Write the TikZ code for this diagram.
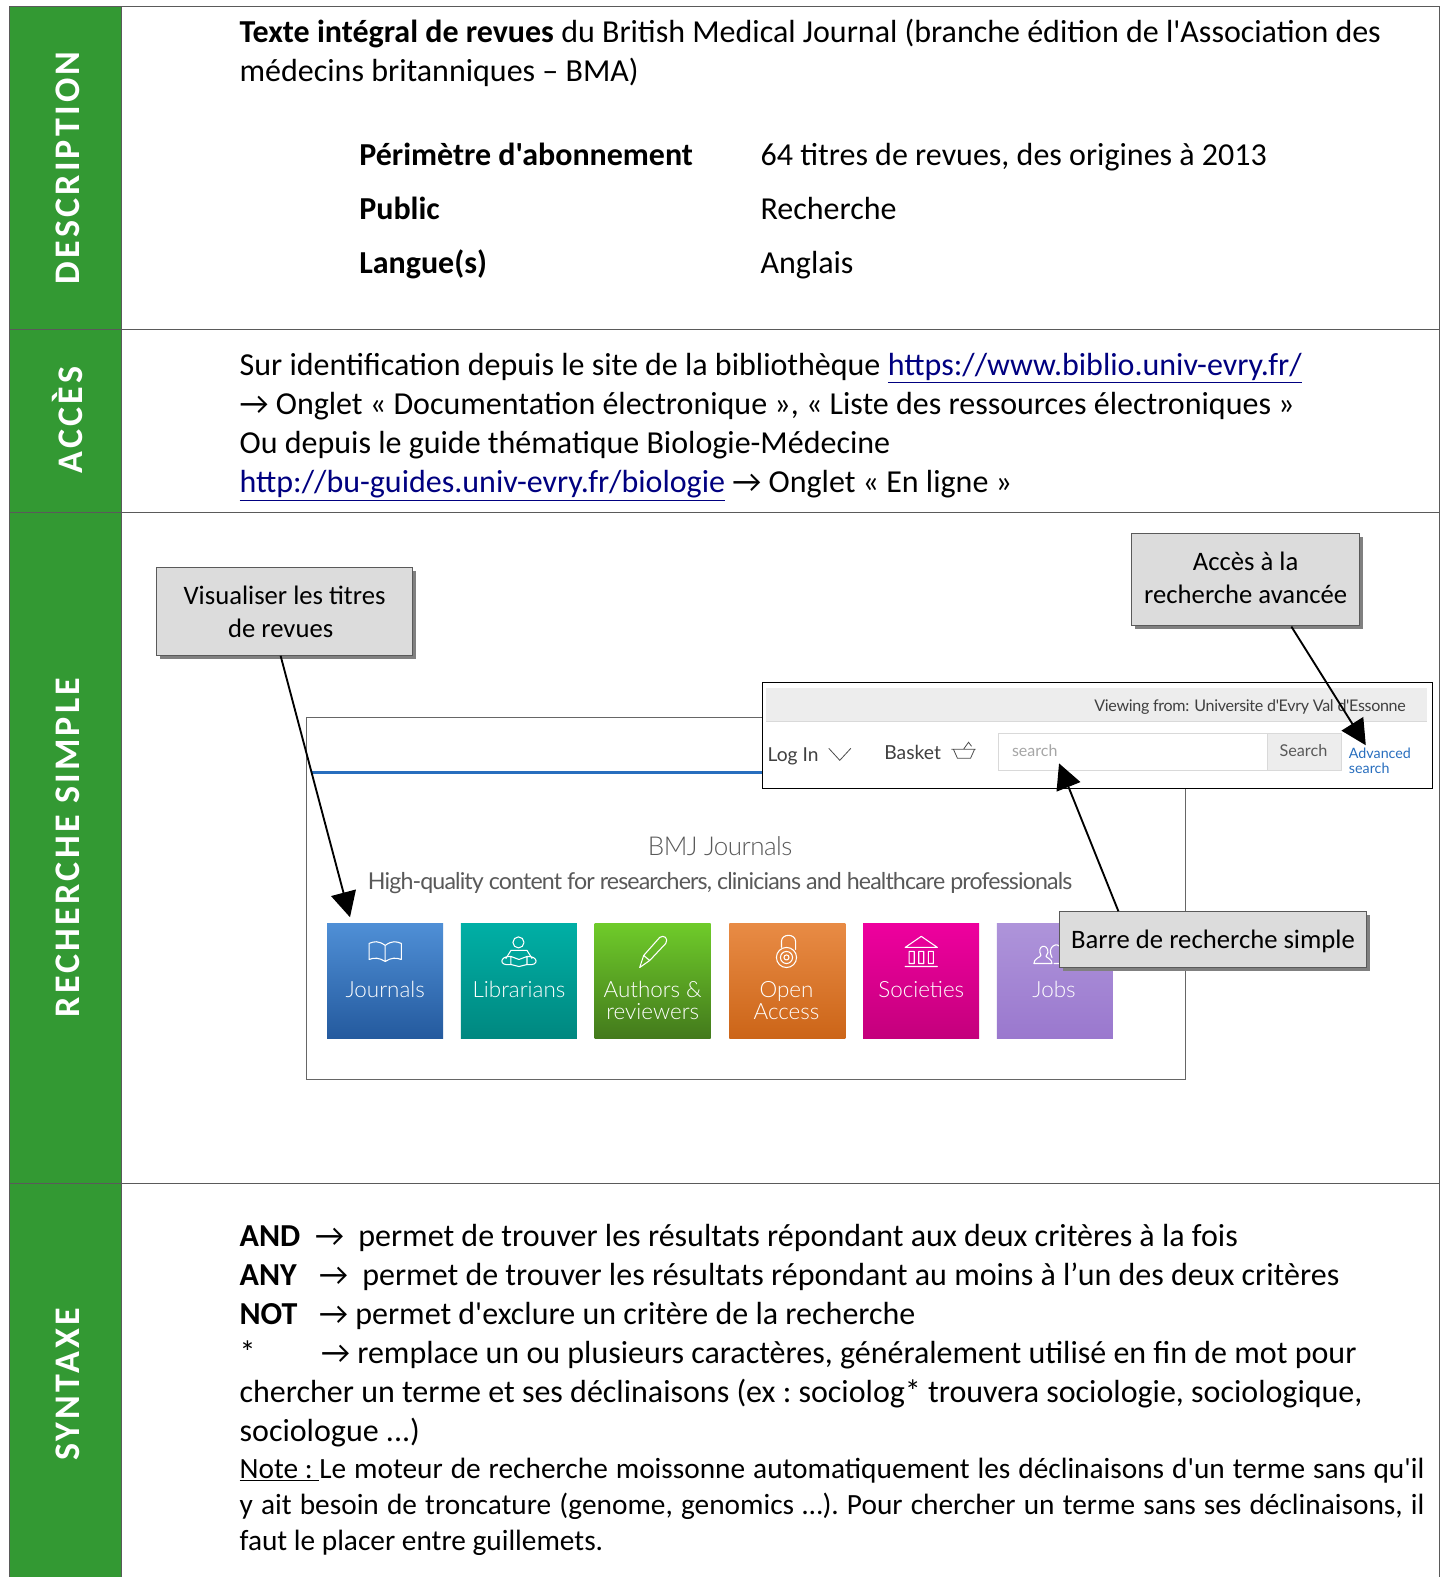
\documentclass[tikz,border=0pt]{standalone}
\usepackage{fontspec}
\newfontfamily\bodyfont{Carlito}
\newfontfamily\webfont{Lato}[UprightFont=* Light]
\newfontfamily\webreg{Lato}
\usetikzlibrary{arrows.meta,shadows}
\definecolor{sidegreen}{RGB}{51,153,51}
\definecolor{linkblue}{RGB}{0,0,128}
\definecolor{framegray}{RGB}{90,90,90}
\definecolor{calloutgray}{RGB}{220,220,220}
\definecolor{advblue}{RGB}{40,110,190}
\newcommand{\bodysize}{\bodyfont\frenchspacing\fontsize{24}{28}\selectfont}
\newcommand{\notesize}{\bodyfont\frenchspacing\fontsize{22}{26}\selectfont}
\tikzset{
  x=0.7543pt,y=-0.7543pt,
  sidelabel/.style={rotate=90,text=white,font=\bodyfont\fontsize{27}{32}\selectfont\bfseries\addfontfeature{LetterSpace=9},inner sep=0pt,anchor=center},
  bodyline/.style={anchor=base west,inner sep=0pt,font=\bodysize,yshift=-0.75pt},
  noteline/.style={anchor=base west,inner sep=0pt,font=\notesize,yshift=-0.75pt},
  callout/.style={draw=framegray,line width=0.7pt,fill=calloutgray,align=center,inner sep=0pt,font=\bodyfont\fontsize{20}{24.6}\selectfont,
    drop shadow={shadow xshift=2.6pt,shadow yshift=-2.6pt,fill=black!50,opacity=1}},
  tile/.style={anchor=north west,minimum width=87pt,minimum height=86pt,inner sep=0pt},
  tilelabel/.style={anchor=base,inner sep=0pt,text=white,font=\webfont\fontsize{16.8}{17}\selectfont},
  webtext/.style={anchor=base west,inner sep=0pt,font=\webreg\fontsize{12}{14}\selectfont,text=black!75},
  pointer/.style={draw=black,line width=1.4pt,-{Triangle[length=19pt,width=19pt]},shorten >=0pt},
  iconline/.style={draw=white,line width=0.8pt,line join=round,line cap=round},
}
\newcommand{\lnk}[1]{\textcolor{linkblue}{\underline{#1}}}
\newcommand{\arr}{→}
\begin{document}
\begin{tikzpicture}
\useasboundingbox (0,0) rectangle (1437,1568);
\fill[white] (0,0) rectangle (1437,1568);
% frame and side column
\fill[sidegreen] (9,6) rectangle (121,1568);
\draw[framegray,line width=0.6pt] (9,1568) -- (9,6) -- (1431,6) -- (1431,1568);
\draw[framegray,line width=0.6pt] (121,6) -- (121,1568);
\draw[framegray,line width=0.6pt] (9,328) -- (1431,328);
\draw[framegray,line width=0.6pt] (9,509) -- (1431,509);
\draw[framegray,line width=0.6pt] (9,1177) -- (1431,1177);
\node[sidelabel] (sDesc) at (67,167) {DESCRIPTION};
\node[sidelabel] (sAcces) at (67,417.5) {ACCÈS};
\node[sidelabel] (sRech) at (67,842.5) {RECHERCHE SIMPLE};
\node[sidelabel] (sSyn) at (67,1376.5) {SYNTAXE};
% description
\node[bodyline] (d1) at (238,41) {\textbf{Texte intégral de revues} du British Medical Journal (branche édition de l'Association des};
\node[bodyline] (d2) at (238,80) {médecins britanniques – BMA)};
\node[bodyline] (p1) at (357,164) {\textbf{Périmètre d'abonnement}};
\node[bodyline] (p2) at (756,164) {64 titres de revues, des origines à 2013};
\node[bodyline] (q1) at (357,217) {\textbf{Public}};
\node[bodyline] (q2) at (756,217) {Recherche};
\node[bodyline] (r1) at (357,271) {\textbf{Langue(s)}};
\node[bodyline] (r2) at (756,271) {Anglais};
% acces
\node[bodyline] (a1) at (238,372) {Sur identification depuis le site de la bibliothèque \lnk{https://www.biblio.univ-evry.fr/}};
\node[bodyline] (a2) at (238,411) {\arr{} Onglet « Documentation électronique », « Liste des ressources électroniques »};
\node[bodyline] (a3) at (238,450) {Ou depuis le guide thématique Biologie-Médecine};
\node[bodyline] (a4) at (238,489) {\lnk{http://bu-guides.univ-evry.fr/biologie} \arr{} Onglet « En ligne »};
% main screenshot
\draw[black!60,line width=0.8pt,fill=white] (305,713) rectangle (1179,1073);
\draw[advblue,line width=2pt] (310,768) -- (760,768);
\node[anchor=base,inner sep=0pt,text=black!65,font=\webfont\fontsize{19.5}{20}\selectfont] (bmj) at (716,851) {\addfontfeature{LetterSpace=-2}BMJ Journals};
\node[anchor=base,inner sep=0pt,text=black!65,font=\webreg\fontsize{17.4}{20}\selectfont] (hq) at (716,884) {\addfontfeature{LetterSpace=-3.8}High-quality content for researchers, clinicians and healthcare professionals};
% tiles
\foreach \nm/\xx/\ca/\cb in {t1/325/4F8FD6/245A9E,t2/458/00AFA5/008880,t3/591/6FCB2A/437A1C,t4/725/E88B45/CC6518,t5/858/EE009E/C4007C,t6/991/AE94DA/9A78CE}{
  \definecolor{ca}{HTML}{\ca}\definecolor{cb}{HTML}{\cb}
  \node[tile,top color=ca,bottom color=cb] (\nm) at (\xx,918) {};
}
\node[tilelabel] (l1) at (383,992) {Journals};
\node[tilelabel] (l2) at (516,992) {Librarians};
\node[tilelabel] (l3a) at (649,992) {Authors \&};
\node[tilelabel] (l3b) at (649,1014) {reviewers};
\node[tilelabel] (l4a) at (782,992) {Open};
\node[tilelabel] (l4b) at (782,1014) {Access};
\node[tilelabel] (l5) at (916,992) {Societies};
\node[tilelabel] (l6) at (1048,992) {Jobs};
% icons
\draw[iconline] (383,940) .. controls (376,935) and (372,936) .. (367,938) -- (367,954) .. controls (372,952) and (377,952) .. (383,956) .. controls (389,952) and (394,952) .. (399,954) -- (399,938) .. controls (394,936) and (390,935) .. (383,940) -- cycle (383,940) -- (383,956);
\draw[iconline] (515.5,937) circle[radius=5.5];
\draw[iconline] (503,953) -- (508,945) -- (524,945) -- (529,953) (508,951) -- (516,954) -- (524,951) -- (524,959) -- (516,961) -- (508,959) -- cycle (508,951) .. controls (497,950) and (495,961) .. (508,959) (524,951) .. controls (535,950) and (537,961) .. (524,959);
\draw[iconline] (636,962) -- (640,950) -- (656,932) .. controls (660,929) and (665,933) .. (662,938) -- (646,955) -- cycle (640,950) -- (646,955);
\draw[iconline] (777,942) -- (777,936) .. controls (777,928) and (791,928) .. (791,936) -- (791,944);
\draw[iconline] (782,952) circle[radius=10] (782,952) circle[radius=6] (782,952) circle[radius=2.5];
\draw[iconline] (916,931) -- (932,942) -- (900,942) -- cycle (904,946) rectangle (909,958) (913.5,946) rectangle (918.5,958) (923,946) rectangle (928,958) (900,961) -- (932,961);
\draw[iconline] (1028,958) .. controls (1028,953) and (1034,952) .. (1035,950) .. controls (1030,940) and (1042,937) .. (1042,947) -- (1040,951) .. controls (1042,953) and (1046,954) .. (1046,958) -- cycle;
\draw[iconline] (1046,952) .. controls (1040,941) and (1052,936) .. (1054,942) (1048,958) -- (1054,958);
% top-right screenshot
\draw[black,line width=0.7pt,fill=white] (758,679) rectangle (1424,784);
\fill[black!7] (762,684) rectangle (1419,717);
\draw[black!15,line width=0.7pt] (762,717.5) -- (1419,717.5);
\node[anchor=base east,inner sep=0pt,text=black!75,font=\webreg\fontsize{12.05}{14}\selectfont] (view) at (1398,707) {\addfontfeature{LetterSpace=-2}Viewing from: Universite d'Evry Val d'Essonne};
\node[webtext,font=\webreg\fontsize{14.4}{14}\selectfont] (login) at (763,757) {Log In};
\draw[black!70,line width=0.6pt] (824,744) -- (835,756) -- (846,744);
\node[webtext,font=\webreg\fontsize{14.5}{14}\selectfont] (basket) at (879,755) {Basket};
\draw[black!70,line width=0.6pt] (946,745) -- (970,745) (948,745) -- (952,754) -- (965,754) -- (969,745) (958,745) -- (963,738) -- (966,742);
\draw[black!15,line width=0.7pt,fill=white] (993,729) rectangle (1260,766);
\draw[black!15,line width=0.7pt,fill=black!7] (1260,729) rectangle (1334,766);
\node[webtext,text=black!35,font=\webreg\fontsize{12}{12}\selectfont] (srch) at (1006,752) {search};
\node[webtext,anchor=base,text=black!65,font=\webreg\fontsize{12.2}{12}\selectfont] (srchb) at (1296,752) {Search};
\node[webtext,text=advblue,font=\webreg\fontsize{10.7}{12}\selectfont] (adv1) at (1341,754.5) {Advanced};
\node[webtext,text=advblue,font=\webreg\fontsize{10.7}{12}\selectfont] (adv2) at (1341,769.5) {search};
% callouts
\node[callout,minimum width=191.6pt,minimum height=65.6pt] (cVis) at (283,608) {Visualiser les titres\\de revues\rule{6pt}{0pt}};
\node[callout,minimum width=171.2pt,minimum height=69.4pt] (cAcc) at (1238.5,576) {\raisebox{2.2pt}{Accès à la}\\\raisebox{2.2pt}{recherche avancée}};
\node[callout,minimum width=230.8pt,minimum height=42.2pt,text depth=0pt] (cBar) at (1206,934) {Barre de recherche simple};
% pointers
\coordinate (tipVis) at (348,912);
\coordinate (tipAdv) at (1358,741);
\coordinate (tipSrch) at (1053,759);
\coordinate (fromVis) at (279,652);
\coordinate (fromAcc) at (1284,623);
\coordinate (fromBar) at (1112,906);
\draw[pointer] (fromVis) -- (tipVis);
\draw[pointer] (fromAcc) -- (tipAdv);
\draw[pointer] (fromBar) -- (tipSrch);
% syntaxe
\node[bodyline] (s1) at (238,1238) {\textbf{AND}};
\node[bodyline] (s1b) at (313,1238) {\arr};
\node[bodyline] (s1c) at (356,1238) {permet de trouver les résultats répondant aux deux critères à la fois};
\node[bodyline] (s2) at (238,1277) {\textbf{ANY}};
\node[bodyline] (s2b) at (317,1277) {\arr};
\node[bodyline] (s2c) at (360,1277) {permet de trouver les résultats répondant au moins à l’un des deux critères};
\node[bodyline] (s3) at (238,1316) {\textbf{NOT}};
\node[bodyline] (s3b) at (317,1316) {\arr{} permet d'exclure un critère de la recherche};
\node[bodyline] (s4) at (238,1355) {*};
\node[bodyline] (s4b) at (319,1355) {\arr{} remplace un ou plusieurs caractères, généralement utilisé en fin de mot pour};
\node[bodyline] (s5) at (238,1393) {chercher un terme et ses déclinaisons (ex : sociolog* trouvera sociologie, sociologique,};
\node[bodyline] (s6) at (238,1432) {sociologue ...)};
\node[noteline] (n1) at (238,1469) {\hbox to 888.6pt{\underline{Note :\ }Le moteur de recherche moissonne automatiquement les déclinaisons d'un terme sans qu'il}};
\node[noteline] (n2) at (238,1505) {\hbox to 888.6pt{y ait besoin de troncature (genome, genomics …). Pour chercher un terme sans ses déclinaisons, il}};
\node[noteline] (n3) at (238,1541) {faut le placer entre guillemets.};
\end{tikzpicture}
\end{document}
